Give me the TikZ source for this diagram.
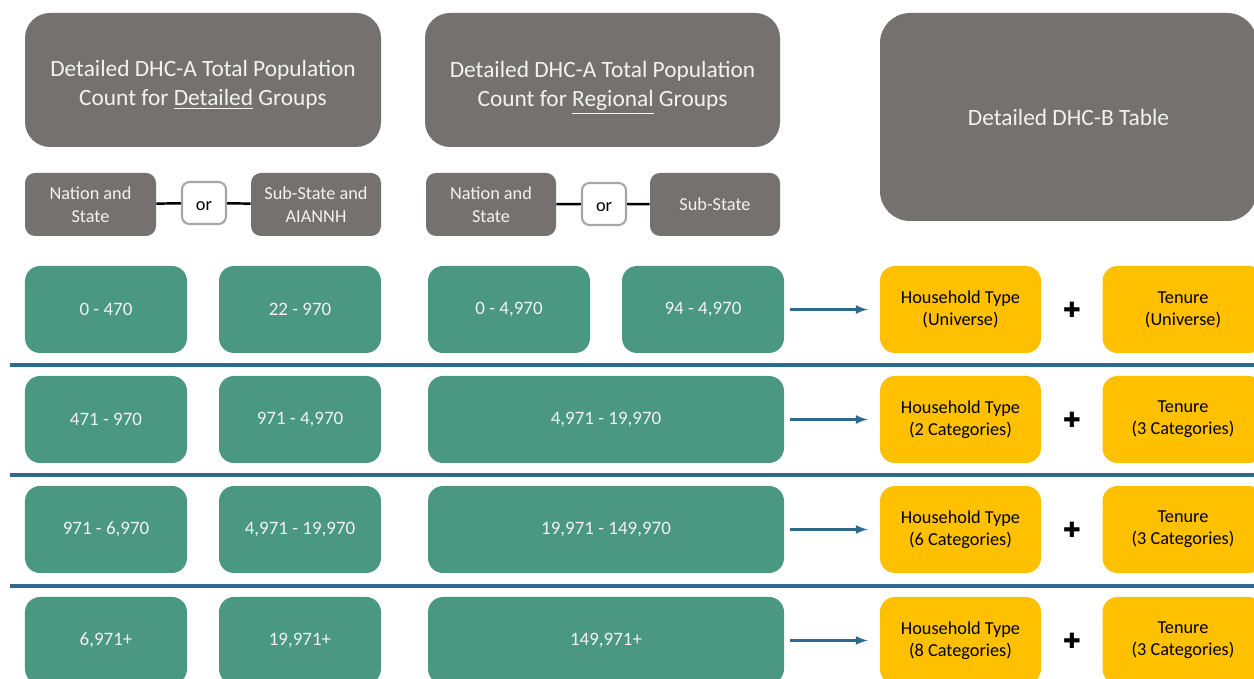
\documentclass[tikz,border=0pt]{standalone}
\usepackage{fontspec}
\setmainfont{Carlito}
\newfontfamily\symfont{DejaVu Sans}
\definecolor{boxgrey}{HTML}{767171}
\definecolor{rangegreen}{HTML}{4A9782}
\definecolor{tableyellow}{HTML}{FFC000}
\definecolor{ruleblue}{HTML}{2E6A8C}
\definecolor{orgrey}{HTML}{A6A6A6}
\definecolor{paletext}{HTML}{F2F2F2}
\begin{document}
\begin{tikzpicture}[
        titlebox/.style={fill=boxgrey, text=paletext, rounded corners=0.5cm, align=center, inner sep=0, font=\fontsize{13.3}{16.4}\selectfont},
        geobox/.style={fill=boxgrey, text=paletext, rounded corners=0.2cm, minimum width=2.62cm, minimum height=1.26cm, align=center, inner sep=0, font=\fontsize{10.4}{13}\selectfont},
        orbox/.style={draw=orgrey, line width=1.2pt, fill=white, rounded corners=0.15cm, minimum width=0.88cm, minimum height=0.84cm, inner sep=0, font=\fontsize{10.4}{12}\selectfont},
        rangebox/.style={fill=rangegreen, text=paletext, rounded corners=0.3cm, minimum width=3.24cm, minimum height=1.74cm, inner sep=0, font=\fontsize{10.8}{12}\selectfont},
        widebox/.style={rangebox, minimum width=7.12cm},
        tablebox/.style={fill=tableyellow, rounded corners=0.3cm, minimum width=3.22cm, minimum height=1.74cm, align=center, inner sep=0, font=\fontsize{10.4}{12.6}\selectfont},
        plussign/.style={inner sep=0, font=\symfont\fontsize{12}{12}\selectfont},
        linkline/.style={black, line width=1.4pt},
        arrowline/.style={-latex, ruleblue, line width=1.3pt, shorten <=0.12cm, shorten >=0.24cm},
        rowrule/.style={ruleblue, line width=2pt}
    ]
        \clip (0, 0) rectangle (25.08, -13.58);

        % headers
        \node[titlebox, minimum width=7.12cm, minimum height=2.68cm] (detA) at (4.06, -1.6) {\rule{0pt}{15pt}Detailed DHC-A Total Population\\Count for \underline{Detailed} Groups};
        \node[titlebox, minimum width=7.1cm, minimum height=2.68cm] (regA) at (12.05, -1.6) {\rule{0pt}{18pt}Detailed DHC-A Total Population\\Count for \underline{Regional} Groups};
        \node[titlebox, rounded corners=0.6cm, minimum width=7.54cm, minimum height=4.16cm] (dhcB) at (21.37, -2.34) {Detailed DHC-B Table};

        % geography choices
        \node[geobox] (ns1) at (1.81, -4.09) {Nation and\\State};
        \node[orbox] (or1) at (4.08, -4.06) {\rule{0pt}{9pt}or};
        \node[geobox, minimum width=2.6cm] (ss1) at (6.32, -4.09) {Sub-State and\\AIANNH};
        \draw[linkline] (ns1) -- (or1);
        \draw[linkline] (or1) -- (ss1);
        \node[geobox, minimum width=2.6cm] (ns2) at (9.82, -4.09) {Nation and\\State};
        \node[orbox] (or2) at (12.08, -4.08) {\rule{0pt}{9pt}or};
        \node[geobox, minimum width=2.6cm] (ss2) at (14.3, -4.09) {Sub-State};
        \draw[linkline] (ns2) -- (or2);
        \draw[linkline] (or2) -- (ss2);

        % row 1
        \node[rangebox] (r1a) at (2.12, -6.19) {0 - 470};
        \node[rangebox] (r1b) at (6.0, -6.19) {22 - 970};
        \node[rangebox] (r1c) at (10.18, -6.19) {0 - 4,970};
        \node[rangebox] (r1d) at (14.06, -6.19) {94 - 4,970};
        \node[tablebox] (h1) at (19.21, -6.19) {Household Type\\(Universe)};
        \node[plussign] (p1) at (21.44, -6.19) {✚};
        \node[tablebox] (t1) at (23.66, -6.19) {Tenure\\(Universe)};
        \draw[arrowline] (r1d) -- (h1);

        % row 2
        \node[rangebox] (r2a) at (2.12, -8.39) {471 - 970};
        \node[rangebox] (r2b) at (6.0, -8.39) {971 - 4,970};
        \node[widebox] (r2c) at (12.12, -8.39) {4,971 - 19,970};
        \node[tablebox] (h2) at (19.21, -8.39) {Household Type\\(2 Categories)};
        \node[plussign] (p2) at (21.44, -8.39) {✚};
        \node[tablebox] (t2) at (23.66, -8.39) {Tenure\\(3 Categories)};
        \draw[arrowline] (r2c) -- (h2);

        % row 3
        \node[rangebox] (r3a) at (2.12, -10.59) {971 - 6,970};
        \node[rangebox] (r3b) at (6.0, -10.59) {4,971 - 19,970};
        \node[widebox] (r3c) at (12.12, -10.59) {19,971 - 149,970};
        \node[tablebox] (h3) at (19.21, -10.59) {Household Type\\(6 Categories)};
        \node[plussign] (p3) at (21.44, -10.59) {✚};
        \node[tablebox] (t3) at (23.66, -10.59) {Tenure\\(3 Categories)};
        \draw[arrowline] (r3c) -- (h3);

        % row 4
        \node[rangebox] (r4a) at (2.12, -12.81) {6,971+};
        \node[rangebox] (r4b) at (6.0, -12.81) {19,971+};
        \node[widebox] (r4c) at (12.12, -12.81) {149,971+};
        \node[tablebox] (h4) at (19.21, -12.81) {Household Type\\(8 Categories)};
        \node[plussign] (p4) at (21.44, -12.81) {✚};
        \node[tablebox] (t4) at (23.66, -12.81) {Tenure\\(3 Categories)};
        \draw[arrowline] (r4c) -- (h4);

        % rules between rows
        \foreach \y [count=\i] in {-7.3, -9.5, -11.72} {
            \coordinate (sl\i) at (0.2, \y);
            \coordinate (sr\i) at (25.3, \y);
            \draw[rowrule] (sl\i) -- (sr\i);
        }
    \end{tikzpicture}
\end{document}
